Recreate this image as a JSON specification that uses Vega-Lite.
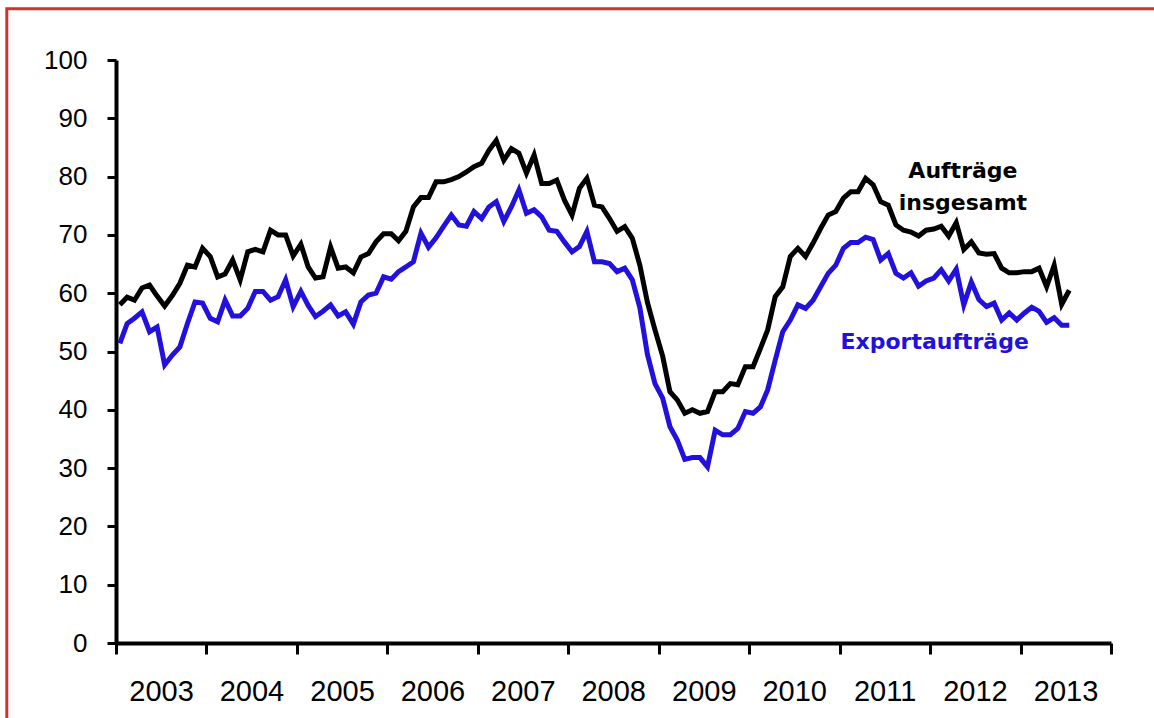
{
  "$schema": "https://vega.github.io/schema/vega-lite/v6.json",
  "width": 995,
  "height": 583,
  "autosize": {"type": "none"},
  "padding": {"left": 116, "top": 60, "right": 43, "bottom": 75},
  "background": "white",
  "config": {"view": {"stroke": null}, "font": "Liberation Sans"},
  "data": {"values": [
    {"date":"2003-01","g":58.0,"e":51.4},{"date":"2003-02","g":59.3,"e":54.8},{"date":"2003-03","g":58.8,"e":55.7},{"date":"2003-04","g":60.9,"e":56.8},
    {"date":"2003-05","g":61.4,"e":53.4},{"date":"2003-06","g":59.5,"e":54.2},{"date":"2003-07","g":57.8,"e":47.7},{"date":"2003-08","g":59.6,"e":49.4},
    {"date":"2003-09","g":61.7,"e":50.8},{"date":"2003-10","g":64.8,"e":54.8},{"date":"2003-11","g":64.5,"e":58.5},{"date":"2003-12","g":67.7,"e":58.3},
    {"date":"2004-01","g":66.3,"e":55.7},{"date":"2004-02","g":62.8,"e":55.1},{"date":"2004-03","g":63.3,"e":58.8},{"date":"2004-04","g":65.7,"e":56.1},
    {"date":"2004-05","g":62.3,"e":56.1},{"date":"2004-06","g":67.1,"e":57.4},{"date":"2004-07","g":67.5,"e":60.3},{"date":"2004-08","g":67.1,"e":60.3},
    {"date":"2004-09","g":70.8,"e":58.8},{"date":"2004-10","g":70.0,"e":59.4},{"date":"2004-11","g":70.0,"e":62.3},{"date":"2004-12","g":66.4,"e":57.7},
    {"date":"2005-01","g":68.4,"e":60.3},{"date":"2005-02","g":64.5,"e":57.9},{"date":"2005-03","g":62.6,"e":56.0},{"date":"2005-04","g":62.8,"e":56.9},
    {"date":"2005-05","g":67.9,"e":58.0},{"date":"2005-06","g":64.3,"e":56.1},{"date":"2005-07","g":64.5,"e":56.8},{"date":"2005-08","g":63.5,"e":54.7},
    {"date":"2005-09","g":66.2,"e":58.5},{"date":"2005-10","g":66.8,"e":59.7},{"date":"2005-11","g":68.8,"e":60.0},{"date":"2005-12","g":70.2,"e":62.8},
    {"date":"2006-01","g":70.2,"e":62.4},{"date":"2006-02","g":69.0,"e":63.7},{"date":"2006-03","g":70.6,"e":64.5},{"date":"2006-04","g":74.8,"e":65.4},
    {"date":"2006-05","g":76.4,"e":70.3},{"date":"2006-06","g":76.4,"e":67.9},{"date":"2006-07","g":79.1,"e":69.5},{"date":"2006-08","g":79.1,"e":71.5},
    {"date":"2006-09","g":79.5,"e":73.4},{"date":"2006-10","g":80.0,"e":71.7},{"date":"2006-11","g":80.8,"e":71.5},{"date":"2006-12","g":81.7,"e":74.0},
    {"date":"2007-01","g":82.3,"e":72.8},{"date":"2007-02","g":84.5,"e":74.8},{"date":"2007-03","g":86.2,"e":75.7},{"date":"2007-04","g":82.8,"e":72.3},
    {"date":"2007-05","g":84.8,"e":74.8},{"date":"2007-06","g":84.0,"e":77.7},{"date":"2007-07","g":80.6,"e":73.7},{"date":"2007-08","g":83.7,"e":74.3},
    {"date":"2007-09","g":78.8,"e":73.1},{"date":"2007-10","g":78.8,"e":70.8},{"date":"2007-11","g":79.4,"e":70.6},{"date":"2007-12","g":76.0,"e":68.8},
    {"date":"2008-01","g":73.4,"e":67.1},{"date":"2008-02","g":78.0,"e":68.0},{"date":"2008-03","g":79.7,"e":70.6},{"date":"2008-04","g":75.1,"e":65.4},
    {"date":"2008-05","g":74.8,"e":65.4},{"date":"2008-06","g":72.8,"e":65.1},{"date":"2008-07","g":70.6,"e":63.7},{"date":"2008-08","g":71.4,"e":64.3},
    {"date":"2008-09","g":69.4,"e":62.3},{"date":"2008-10","g":64.8,"e":57.5},{"date":"2008-11","g":58.4,"e":49.5},{"date":"2008-12","g":53.7,"e":44.5},
    {"date":"2009-01","g":49.2,"e":42.0},{"date":"2009-02","g":43.1,"e":37.1},{"date":"2009-03","g":41.7,"e":34.8},{"date":"2009-04","g":39.4,"e":31.5},
    {"date":"2009-05","g":40.0,"e":31.8},{"date":"2009-06","g":39.4,"e":31.8},{"date":"2009-07","g":39.7,"e":30.2},{"date":"2009-08","g":43.1,"e":36.5},
    {"date":"2009-09","g":43.1,"e":35.7},{"date":"2009-10","g":44.5,"e":35.7},{"date":"2009-11","g":44.3,"e":36.8},{"date":"2009-12","g":47.4,"e":39.7},
    {"date":"2010-01","g":47.4,"e":39.4},{"date":"2010-02","g":50.5,"e":40.5},{"date":"2010-03","g":53.7,"e":43.4},{"date":"2010-04","g":59.4,"e":48.5},
    {"date":"2010-05","g":61.1,"e":53.4},{"date":"2010-06","g":66.3,"e":55.4},{"date":"2010-07","g":67.7,"e":58.0},{"date":"2010-08","g":66.3,"e":57.4},
    {"date":"2010-09","g":68.6,"e":58.8},{"date":"2010-10","g":71.1,"e":61.1},{"date":"2010-11","g":73.4,"e":63.4},{"date":"2010-12","g":74.0,"e":64.8},
    {"date":"2011-01","g":76.3,"e":67.7},{"date":"2011-02","g":77.4,"e":68.7},{"date":"2011-03","g":77.4,"e":68.7},{"date":"2011-04","g":79.7,"e":69.6},
    {"date":"2011-05","g":78.6,"e":69.2},{"date":"2011-06","g":75.7,"e":65.7},{"date":"2011-07","g":75.1,"e":66.8},{"date":"2011-08","g":71.7,"e":63.4},
    {"date":"2011-09","g":70.8,"e":62.6},{"date":"2011-10","g":70.5,"e":63.5},{"date":"2011-11","g":69.8,"e":61.2},{"date":"2011-12","g":70.8,"e":62.1},
    {"date":"2012-01","g":71.0,"e":62.6},{"date":"2012-02","g":71.5,"e":64.0},{"date":"2012-03","g":69.8,"e":62.1},{"date":"2012-04","g":72.1,"e":64.1},
    {"date":"2012-05","g":67.5,"e":58.0},{"date":"2012-06","g":68.8,"e":61.9},{"date":"2012-07","g":66.9,"e":58.9},{"date":"2012-08","g":66.7,"e":57.7},
    {"date":"2012-09","g":66.8,"e":58.3},{"date":"2012-10","g":64.3,"e":55.4},{"date":"2012-11","g":63.5,"e":56.6},{"date":"2012-12","g":63.5,"e":55.4},
    {"date":"2013-01","g":63.7,"e":56.6},{"date":"2013-02","g":63.7,"e":57.6},{"date":"2013-03","g":64.3,"e":56.9},{"date":"2013-04","g":61.1,"e":55.0},
    {"date":"2013-05","g":64.8,"e":55.8},{"date":"2013-06","g":58.1,"e":54.5},{"date":"2013-07","g":60.5,"e":54.5}
  ]},
  "layer": [
    {
      "mark": {"type": "line", "color": "#000000", "strokeWidth": 5},
      "encoding": {
        "x": {
          "field": "date", "timeUnit": "utcyearmonth", "type": "temporal", "bandPosition": 0.5, "title": null,
          "scale": {"type": "utc", "domain": [{"year": 2003, "month": 1, "date": 1, "utc": true}, {"year": 2014, "month": 1, "date": 1, "utc": true}]},
          "axis": {
            "title": null, "grid": false,
            "tickCount": {"interval": "year", "step": 1},
            "format": "%Y",
            "labelExpr": "utcyear(datum.value) > 2013 ? '' : datum.label",
            "labelOffset": 45, "labelFlush": false, "labelOverlap": false,
            "labelFont": "Liberation Sans", "labelFontSize": 29, "labelColor": "#000000", "labelPadding": 23,
            "tickSize": 11, "tickWidth": 3, "tickColor": "#000000",
            "domainColor": "#000000", "domainWidth": 4
          }
        },
        "y": {
          "field": "g", "type": "quantitative", "title": null,
          "scale": {"domain": [0, 100], "nice": false, "zero": true},
          "axis": {
            "title": null, "grid": false,
            "values": [0, 10, 20, 30, 40, 50, 60, 70, 80, 90, 100],
            "labelFont": "Liberation Sans", "labelFontSize": 26, "labelColor": "#000000", "labelPadding": 20,
            "tickSize": 9, "tickWidth": 3, "tickColor": "#000000",
            "domainColor": "#000000", "domainWidth": 4
          }
        }
      }
    },
    {
      "mark": {"type": "line", "color": "#2210dc", "strokeWidth": 5},
      "encoding": {
        "x": {
          "field": "date", "timeUnit": "utcyearmonth", "type": "temporal", "bandPosition": 0.5, "title": null,
          "scale": {"type": "utc", "domain": [{"year": 2003, "month": 1, "date": 1, "utc": true}, {"year": 2014, "month": 1, "date": 1, "utc": true}]}
        },
        "y": {"field": "e", "type": "quantitative", "title": null, "scale": {"domain": [0, 100], "nice": false, "zero": true}}
      }
    },
    {
      "data": {"values": [{}]},
      "mark": {"type": "text", "text": ["Aufträge", "insgesamt"], "font": "DejaVu Sans", "fontWeight": "bold", "fontSize": 22, "lineHeight": 32, "align": "center", "baseline": "alphabetic", "color": "#000000"},
      "encoding": {
        "x": {"datum": {"year": 2012, "month": 5, "date": 13, "utc": true}, "type": "temporal", "title": null, "scale": {"type": "utc", "domain": [{"year": 2003, "month": 1, "date": 1, "utc": true}, {"year": 2014, "month": 1, "date": 1, "utc": true}]}},
        "y": {"datum": 79.8, "type": "quantitative", "title": null, "scale": {"domain": [0, 100], "nice": false, "zero": true}}
      }
    },
    {
      "data": {"values": [{}]},
      "mark": {"type": "text", "text": "Exportaufträge", "font": "DejaVu Sans", "fontWeight": "bold", "fontSize": 22, "align": "center", "baseline": "alphabetic", "color": "#2210dc"},
      "encoding": {
        "x": {"datum": {"year": 2012, "month": 1, "date": 20, "utc": true}, "type": "temporal", "title": null, "scale": {"type": "utc", "domain": [{"year": 2003, "month": 1, "date": 1, "utc": true}, {"year": 2014, "month": 1, "date": 1, "utc": true}]}},
        "y": {"datum": 50.4, "type": "quantitative", "title": null, "scale": {"domain": [0, 100], "nice": false, "zero": true}}
      }
    },
    {
      "data": {"values": [{}]},
      "mark": {"type": "rect", "fillOpacity": 0, "stroke": "#cc3333", "strokeWidth": 3, "clip": false},
      "encoding": {
        "x": {"datum": {"year": 2001, "month": 10, "date": 17, "utc": true}, "type": "temporal", "title": null, "scale": {"type": "utc", "domain": [{"year": 2003, "month": 1, "date": 1, "utc": true}, {"year": 2014, "month": 1, "date": 1, "utc": true}]}},
        "x2": {"datum": {"year": 2016, "month": 1, "date": 1, "utc": true}},
        "y": {"datum": 108.8, "type": "quantitative", "title": null, "scale": {"domain": [0, 100], "nice": false, "zero": true}},
        "y2": {"datum": -30}
      }
    }
  ]
}
